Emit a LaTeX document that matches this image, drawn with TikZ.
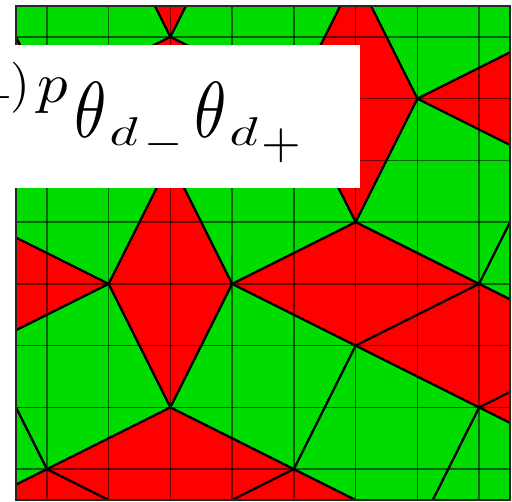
\documentclass[tikz,border=0pt]{standalone}
\usepackage{graphicx}
\definecolor{tred}{RGB}{255,0,0}
\definecolor{tgreen}{RGB}{0,220,0}
\newcommand\glyphat[5]{\rlap{\hspace*{#1}\raisebox{#2}{\scalebox{#3}[#4]{$#5$}}}}
\begin{document}
\begin{tikzpicture}[x=1cm,y=-1cm,
  redtile/.style={fill=tred},
  greentile/.style={fill=tgreen},
  edge/.style={draw=black,line width=0.9pt,line join=round},
  gridline/.style={draw=black,opacity=0.55,line width=0.7pt},
  framebox/.style={draw=black!85,line width=1pt},
  textbox/.style={fill=white}]
\useasboundingbox (-0.2591,-0.0972) rectangle (8.0324,8.0162);
% vertices
\coordinate (A) at (2.5,0.5);
\coordinate (B) at (4.5,1.5);
\coordinate (C) at (6.5,1.5);
\coordinate (D) at (5.5,3.5);
\coordinate (E) at (1.5,4.5);
\coordinate (F) at (3.5,4.5);
\coordinate (G) at (7.5,4.5);
\coordinate (H) at (2.5,6.5);
\coordinate (I) at (5.5,5.5);
\coordinate (J) at (7.5,6.5);
\coordinate (K) at (0.5,7.5);
\coordinate (L) at (4.5,7.5);
\coordinate (M) at (2.5,2.5);
\coordinate (N) at (0.5,1.5);
\begin{scope}
\clip (0,0) rectangle (8,8);
% red rhombi
\def\rhA{(A) -- (1.5,-1.5) -- (2.5,-3.5) -- (3.5,-1.5) -- cycle}
\def\rhB{(A) -- (B) -- (M) -- (N) -- cycle}
\def\rhC{(B) -- (5.5,-0.5) -- (C) -- (D) -- cycle}
\def\rhD{(C) -- (8.5,0.5) -- (10.5,1.5) -- (8.5,2.5) -- cycle}
\def\rhE{(M) -- (F) -- (H) -- (E) -- cycle}
\def\rhF{(E) -- (-0.5,3.5) -- (-2.5,4.5) -- (-0.5,5.5) -- cycle}
\def\rhG{(F) -- (D) -- (G) -- (I) -- cycle}
\def\rhH{(G) -- (9.5,5.5) -- (J) -- (I) -- cycle}
\def\rhI{(J) -- (9.5,5.5) -- (11.5,6.5) -- (9.5,7.5) -- cycle}
\def\rhJ{(H) -- (L) -- (2.5,8.5) -- (K) -- cycle}
\def\rhK{(K) -- (2.5,8.5) -- (0.5,9.5) -- (-1.5,8.5) -- cycle}
\def\rhL{(L) -- (6.5,8.5) -- (4.5,9.5) -- (2.5,8.5) -- cycle}
\def\rhM{(N) -- (-0.5,-0.5) -- (-1.5,1.5) -- (-0.5,3.5) -- cycle}
% green squares
\def\sqA{(A) -- (N) -- (-0.5,-0.5) -- (1.5,-1.5) -- cycle}
\def\sqB{(A) -- (B) -- (5.5,-0.5) -- (3.5,-1.5) -- cycle}
\def\sqC{(C) -- (5.5,-0.5) -- (7.5,-1.5) -- (8.5,0.5) -- cycle}
\def\sqD{(B) -- (D) -- (F) -- (M) -- cycle}
\def\sqE{(C) -- (8.5,2.5) -- (G) -- (D) -- cycle}
\def\sqF{(E) -- (M) -- (N) -- (-0.5,3.5) -- cycle}
\def\sqG{(G) -- (8.5,2.5) -- (10.5,3.5) -- (9.5,5.5) -- cycle}
\def\sqH{(E) -- (H) -- (K) -- (-0.5,5.5) -- cycle}
\def\sqI{(H) -- (F) -- (I) -- (L) -- cycle}
\def\sqJ{(K) -- (-0.5,5.5) -- (-2.5,6.5) -- (-1.5,8.5) -- cycle}
\def\sqK{(L) -- (I) -- (J) -- (6.5,8.5) -- cycle}
\def\sqL{(J) -- (9.5,7.5) -- (8.5,9.5) -- (6.5,8.5) -- cycle}
\foreach \t in {\rhA,\rhB,\rhC,\rhD,\rhE,\rhF,\rhG,\rhH,\rhI,\rhJ,\rhK,\rhL,\rhM}
  \fill[redtile] \t;
\foreach \t in {\sqA,\sqB,\sqC,\sqD,\sqE,\sqF,\sqG,\sqH,\sqI,\sqJ,\sqK,\sqL}
  \fill[greentile] \t;
% grid
\foreach \g in {0.5,1.5,...,7.5} {
  \draw[gridline] (\g,0) -- (\g,8);
  \draw[gridline] (0,\g) -- (8,\g);
}
% tile edges
\foreach \t in {\rhA,\rhB,\rhC,\rhD,\rhE,\rhF,\rhG,\rhH,\rhI,\rhJ,\rhK,\rhL,\rhM,
                \sqA,\sqB,\sqC,\sqD,\sqE,\sqF,\sqG,\sqH,\sqI,\sqJ,\sqK,\sqL}
  \draw[edge] \t;
\end{scope}
\draw[framebox] (0,0) rectangle (8,8);
% white label box
\fill[textbox] (-0.2591,0.632) rectangle (5.571,2.947);
\begin{scope}
\clip (-0.2591,0.632) rectangle (5.571,2.947);
\node[anchor=base west, inner sep=0] (formula) at (-0.2591,2.1215)
 {\glyphat{-11.5pt}{12.9pt}{2.2}{2.2}{-}%
  \glyphat{4.1pt}{17pt}{2.35}{2.35}{)}%
  \glyphat{16.6pt}{16.1pt}{2.8}{2.6}{p}%
  \glyphat{33.6pt}{0pt}{3.0}{3.66}{\theta}%
  \glyphat{49.8pt}{-3.7pt}{2.5}{1.85}{d}%
  \glyphat{65.9pt}{-9.2pt}{2.26}{2.2}{-}%
  \glyphat{88.9pt}{0pt}{3.0}{3.66}{\theta}%
  \glyphat{105.1pt}{-3.7pt}{2.5}{1.85}{d}%
  \glyphat{119.8pt}{-10pt}{2.35}{2.35}{+}};
\end{scope}
\end{tikzpicture}
\end{document}
